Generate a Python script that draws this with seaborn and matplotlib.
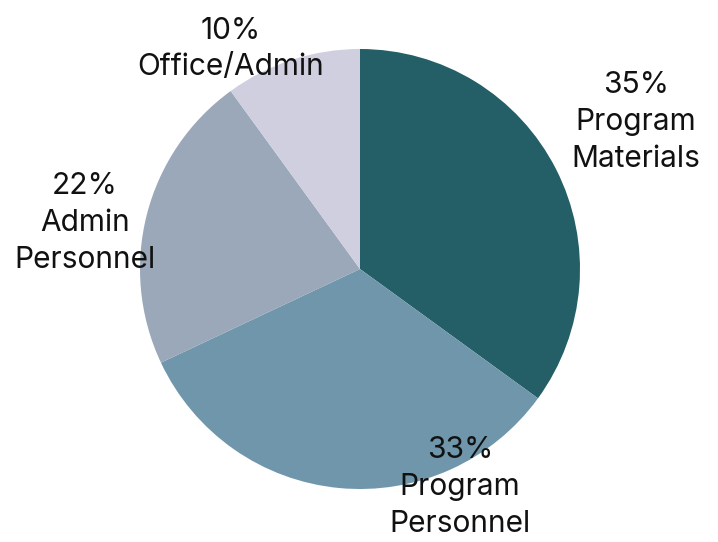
import matplotlib
matplotlib.use("Agg")
import matplotlib.pyplot as plt
import seaborn as sns

# Budget breakdown (percent), clockwise from 12 o'clock
categories = ["Program\nMaterials", "Program\nPersonnel", "Admin\nPersonnel", "Office/Admin"]
shares = [35, 33, 22, 10]
colors = ["#245f67", "#6f96aa", "#9aa8b9", "#d0cfe0"]

# label anchor points in pie-radius units
label_pos = [(1.255, 0.668), (0.455, -0.99), (-1.25, 0.21), (-0.586, 1.0)]

sns.set_theme(style="white")
plt.rcParams["font.family"] = ["Inter", "DejaVu Sans"]

fig = plt.figure(figsize=(7.18, 5.42), dpi=100)
ax = fig.add_axes([0, 0, 1, 1])
ax.pie(shares, colors=colors, startangle=90, counterclock=False,
       radius=1.0, wedgeprops=dict(linewidth=0))

for cat, val, (x, y) in zip(categories, shares, label_pos):
    ax.text(x, y, f"{val}%\n{cat}", ha="center", va="center",
            fontsize=21.5, color="#111111", linespacing=1.4)

ax.set_xlim(-360 / 220, 358 / 220)
ax.set_ylim(-273 / 220, 269 / 220)
ax.set_aspect("equal")
ax.axis("off")

fig.savefig("out.png", dpi=100)
